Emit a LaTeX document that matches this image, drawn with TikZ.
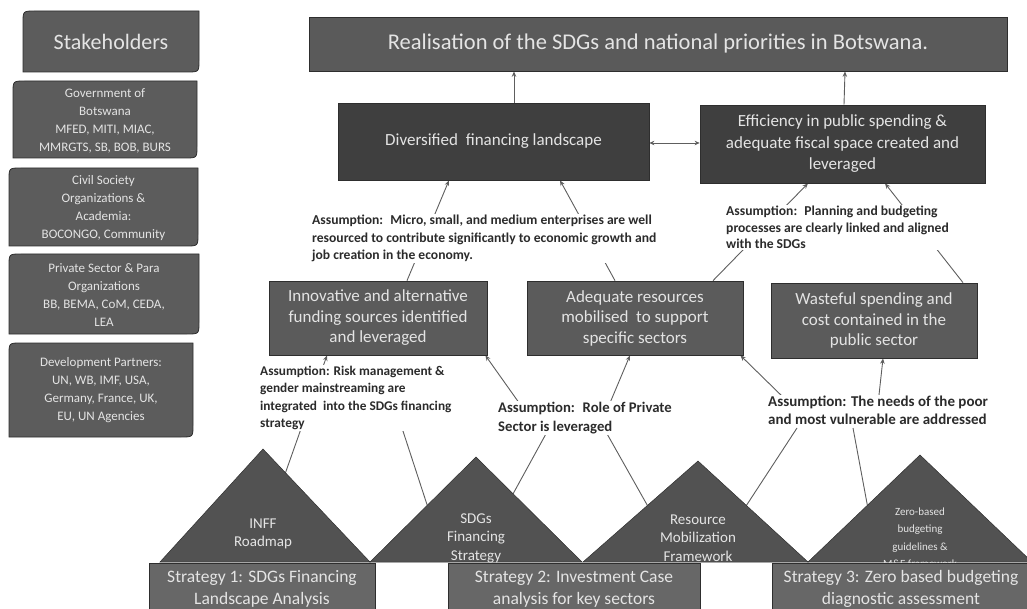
\documentclass[tikz,border=0pt]{standalone}
\usepackage{fontspec}
\setmainfont{Carlito}
\usetikzlibrary{arrows.meta,calc,backgrounds}
\definecolor{cTop}{HTML}{5A5A5A}
\definecolor{cDark}{HTML}{3F3F3F}
\definecolor{cMid}{HTML}{5B5B5B}
\definecolor{cTri}{HTML}{525252}
\definecolor{cStr}{HTML}{676767}
\definecolor{cStk}{HTML}{5C5C5C}
\definecolor{cEdge}{HTML}{2E2E2E}
\definecolor{cTxt}{HTML}{E4E4E4}
\definecolor{cLine}{HTML}{5E5E5E}
\definecolor{cAsm}{HTML}{2B2B2B}
\newcommand\skbox[4]{\filldraw[stkshape] (#1,#2+12) .. controls (#1,#2) .. (#1+12,#2) -- (#3,#2) -- (#3,#4-12) .. controls (#3,#4) .. (#3-12,#4) -- (#1,#4) -- cycle;}
\begin{document}
\begin{tikzpicture}[x=1pt,y=-1pt,
 conn/.style={draw=cLine,line width=0.9pt},
 arr/.style={conn,-{Stealth[length=5.5pt,width=4.5pt]}},
 dbl/.style={conn,{Stealth[length=5pt,width=4.5pt]}-{Stealth[length=5pt,width=4.5pt]}},
 box/.style={draw=cEdge,line width=0.7pt,fill=cMid,text=cTxt,align=center,inner sep=0pt,font=\fontsize{17}{20.5}\selectfont},
 topbox/.style={box,fill=cTop,font=\fontsize{22.5}{26}\selectfont},
 darkbox/.style={box,fill=cDark,font=\fontsize{17}{21.5}\selectfont},
 stratbox/.style={box,fill=cStr,font=\fontsize{17.5}{22}\selectfont},
 tritext/.style={text=cTxt,align=center,inner sep=0pt,font=\fontsize{15}{18.5}\selectfont},
 stkshape/.style={draw=cEdge,line width=0.8pt,fill=cStk},
 stktext/.style={text=cTxt,align=center,inner sep=0pt,font=\fontsize{13}{17.8}\selectfont},
 asm/.style={fill=white,text=cAsm,align=left,inner sep=1pt,anchor=north west,font=\bfseries\fontsize{12}{16.5}\selectfont},
 tri/.style={fill=cTri,draw=cEdge,line width=0.5pt}
]
\useasboundingbox (0,0) rectangle (1027,609);

% stakeholders column
\skbox{23}{11}{199}{72}
\skbox{13}{81}{197}{158}
\skbox{9}{168}{198}{246}
\skbox{9}{254}{199}{334}
\skbox{9}{343}{193}{437}
\node[stktext,font=\fontsize{22}{24}\selectfont] (sh0) at (111,41.5) {Stakeholders};
\node[stktext] (sh1) at (105,121) {Government of\\Botswana\\MFED, MITI, MIAC,\\MMRGTS, SB, BOB, BURS};
\node[stktext] (sh2) at (103.5,208) {Civil Society\\Organizations \&\\Academia:\\BOCONGO, Community};
\node[stktext] (sh3) at (104,295) {Private Sector \& Para\\Organizations\\BB, BEMA, CoM, CEDA,\\LEA};
\node[stktext] (sh4) at (101,390) {Development Partners:\\UN, WB, IMF, USA,\\Germany, France, UK,\\EU, UN Agencies};

% outcome boxes
\node[topbox,minimum width=698,minimum height=54] (top) at (658,44) {Realisation of the SDGs and national priorities in Botswana.};
\node[darkbox,minimum width=311,minimum height=77] (div) at (493.5,141.5) {Diversified \ financing landscape};
\node[darkbox,minimum width=285,minimum height=78] (eff) at (842.5,144) {Efficiency in public spending \&\\adequate fiscal space created and\\leveraged};
\node[box,minimum width=218,minimum height=74] (innov) at (378,318) {Innovative and alternative\\funding sources identified\\and leveraged};
\node[box,minimum width=216,minimum height=74] (adeq) at (635,318) {Adequate resources\\mobilised \ to support\\specific sectors};
\node[box,minimum width=206,minimum height=75] (waste) at (874,320.5) {Wasteful spending and\\cost contained in the\\public sector};

% assumptions
\node[asm,font=\bfseries\fontsize{13.6}{17.5}\selectfont] (a1) at (311,214) {Assumption: \ Micro, small, and medium enterprises are well\\resourced to contribute significantly to economic growth and\\job creation in the economy.};
\node[asm,font=\bfseries\fontsize{13.6}{16.5}\selectfont] (a3) at (725,205) {Assumption: \ Planning and budgeting\\processes are clearly linked and aligned\\with the SDGs};
\node[asm,font=\bfseries\fontsize{13.3}{17.3}\selectfont] (ar) at (259,365) {Assumption: Risk management \&\\gender mainstreaming are\\integrated \ into the SDGs financing\\strategy};
\node[asm,font=\bfseries\fontsize{14.7}{19}\selectfont] (ap) at (497,401) {Assumption: \ Role of Private\\Sector is leveraged};
\node[asm,font=\bfseries\fontsize{15}{17.5}\selectfont] (an) at (767,395) {Assumption: The needs of the poor\\and most vulnerable are addressed};

% triangles geometry
\coordinate (t1a) at (263,449); \coordinate (t1l) at (160,562); \coordinate (t1r) at (370,562);
\coordinate (t2a) at (476,457); \coordinate (t2l) at (370,562); \coordinate (t2r) at (582,562);
\coordinate (t3a) at (698,461); \coordinate (t3l) at (583,562); \coordinate (t3r) at (808,562);
\coordinate (t4a) at (920,455); \coordinate (t4l) at (808,562); \coordinate (t4r) at (1032,562);
\coordinate (p1) at ($(t1a)!0.21!(t1r)$);
\coordinate (p2) at ($(t2a)!0.46!(t2l)$);
\coordinate (p3) at ($(t2a)!0.35!(t2r)$);
\coordinate (p4) at ($(t3a)!0.44!(t3l)$);
\coordinate (p5) at ($(t3a)!0.44!(t3r)$);
\coordinate (p6) at ($(t4a)!0.47!(t4l)$);
% free ends hidden under assumption texts
\coordinate (q9) at (401,425);
\coordinate (q10) at (522,407);
\coordinate (q11) at (607,410);
\coordinate (q12) at (547,432);
\coordinate (q13) at (606,432);
\coordinate (q14) at (786,400);
\coordinate (q15) at (878,404);
\coordinate (q16) at (797,428);
\coordinate (q17) at (853,428);

% triangle labels
\node[tritext] (tt1) at (263,534) {INFF\\Roadmap};
\node[tritext] (tt2) at (476,538) {SDGs\\Financing\\Strategy};
\node[tritext] (tt3) at (698,538) {Resource\\Mobilization\\Framework};
\node[tritext,font=\fontsize{11}{17.5}\selectfont] (tt4) at (920,537.5) {Zero-based\\budgeting\\guidelines \&\\M\&E framework};

% strategy boxes
\node[stratbox,minimum width=226,minimum height=52] (s1) at (262,589) {Strategy 1: SDGs Financing\\Landscape Analysis};
\node[stratbox,minimum width=252,minimum height=52] (s2) at (574,589) {Strategy 2: Investment Case\\analysis for key sectors};
\node[stratbox,minimum width=258,minimum height=52] (s3) at (901,589) {Strategy 3: Zero based budgeting\\diagnostic assessment};

\begin{scope}[on background layer]
 \draw[arr] ($(div.north)+(20.5,0)$) -- ($(top.south)+(-144,0)$);
 \draw[arr] ($(eff.north)+(1.5,0)$) -- ($(top.south)+(187,0)$);
 \draw[dbl] ($(div.east)+(0,1.5)$) -- ($(eff.west)+(0,-1)$);
 \draw[arr] ($(innov.north)+(29,0)$) -- ($(div.south)+(-44.5,0)$);
 \draw[arr] ($(adeq.north)+(-20,0)$) -- ($(div.south)+(66.5,0)$);
 \draw[arr] ($(adeq.north)+(78,0)$) -- ($(eff.south)+(-34.5,0)$);
 \draw[arr] ($(waste.north)+(89,0)$) -- ($(eff.south)+(42.5,0)$);
 \draw[arr] (p1) -- ($(innov.south)+(-51,0)$);
 \draw[conn] (p2) -- (q9);
 \draw[arr] (q10) -- ($(innov.south east)+(-2,0)$);
 \draw[arr] (q11) -- ($(adeq.south)+(-5,0)$);
 \draw[conn] (p3) -- (q12);
 \draw[conn] (p4) -- (q13);
 \draw[arr] (q14) -- ($(adeq.south east)+(-3,0)$);
 \draw[arr] (q15) -- ($(waste.south)+(9,0)$);
 \draw[conn] (p5) -- (q16);
 \draw[conn] (p6) -- (q17);
 \filldraw[tri] (t1a) -- (t1l) -- (t1r) -- cycle;
 \filldraw[tri] (t2a) -- (t2l) -- (t2r) -- cycle;
 \filldraw[tri] (t3a) -- (t3l) -- (t3r) -- cycle;
 \filldraw[tri] (t4a) -- (t4l) -- (t4r) -- cycle;
\end{scope}
\end{tikzpicture}
\end{document}
